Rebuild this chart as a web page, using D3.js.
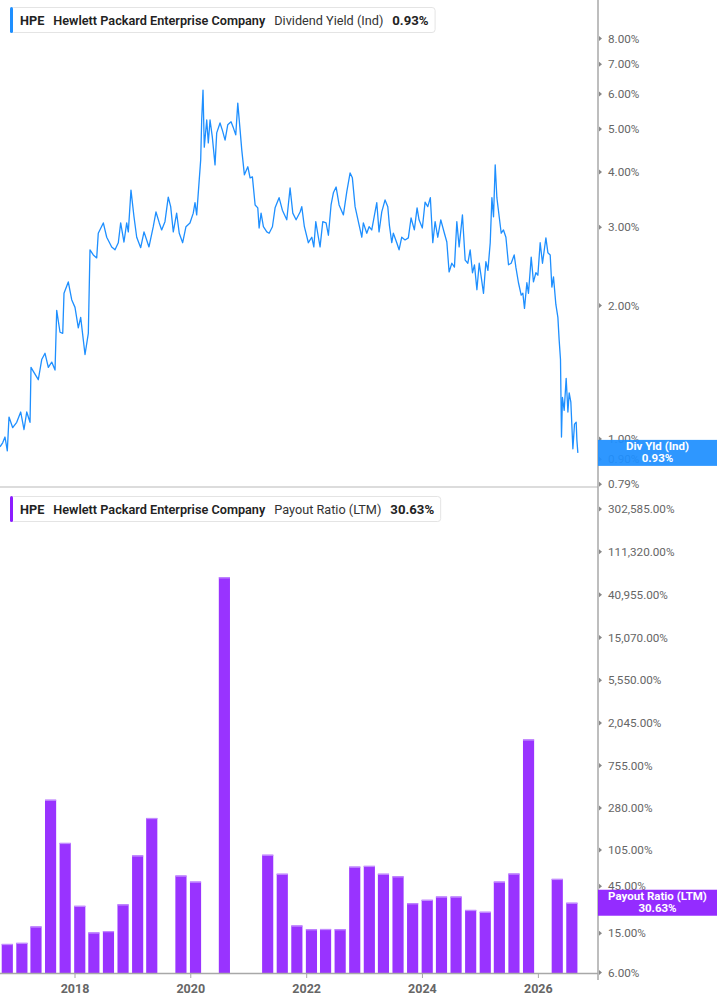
<!DOCTYPE html>
<html><head><meta charset="utf-8">
<script src="https://cdn.jsdelivr.net/npm/d3@7"></script>
<style>
html,body{margin:0;padding:0;background:#fff;}
svg{display:block;font-family:Roboto,"Noto Sans",sans-serif;}
</style></head>
<body>
<svg id="chart" width="717" height="1005"></svg>
<script>
// ---------- DATA ----------
const yieldDates = [2016.705,2016.751,2016.791,2016.831,2016.860,2016.924,2016.993,2017.062,2017.119,2017.166,2017.223,2017.240,2017.280,2017.366,2017.425,2017.482,2017.539,2017.598,2017.655,2017.684,2017.741,2017.788,2017.810,2017.884,2017.943,2018.000,2018.057,2018.098,2018.173,2018.230,2018.259,2018.316,2018.375,2018.402,2018.489,2018.548,2018.634,2018.691,2018.748,2018.789,2018.846,2018.893,2018.921,2018.967,2019.019,2019.066,2019.135,2019.192,2019.278,2019.352,2019.399,2019.456,2019.497,2019.554,2019.611,2019.653,2019.698,2019.756,2019.801,2019.860,2019.917,2019.986,2020.043,2020.073,2020.102,2020.142,2020.171,2020.188,2020.211,2020.233,2020.275,2020.302,2020.332,2020.371,2020.418,2020.447,2020.504,2020.544,2020.591,2020.637,2020.694,2020.734,2020.775,2020.810,2020.850,2020.879,2020.924,2020.983,2021.022,2021.062,2021.109,2021.155,2021.178,2021.212,2021.252,2021.311,2021.351,2021.408,2021.454,2021.523,2021.580,2021.656,2021.713,2021.760,2021.817,2021.886,2021.915,2021.960,2022.029,2022.088,2022.123,2022.157,2022.202,2022.231,2022.278,2022.335,2022.375,2022.421,2022.461,2022.508,2022.560,2022.634,2022.693,2022.750,2022.789,2022.836,2022.905,2022.952,2022.979,2023.038,2023.078,2023.124,2023.181,2023.211,2023.250,2023.297,2023.354,2023.401,2023.428,2023.470,2023.497,2023.556,2023.596,2023.642,2023.699,2023.756,2023.803,2023.860,2023.907,2023.941,2023.998,2024.045,2024.092,2024.136,2024.178,2024.218,2024.264,2024.316,2024.378,2024.420,2024.459,2024.506,2024.551,2024.592,2024.632,2024.689,2024.736,2024.782,2024.822,2024.862,2024.896,2024.938,2024.978,2025.012,2025.052,2025.093,2025.128,2025.168,2025.197,2025.225,2025.254,2025.283,2025.323,2025.358,2025.397,2025.439,2025.484,2025.530,2025.582,2025.611,2025.656,2025.703,2025.732,2025.760,2025.801,2025.829,2025.876,2025.915,2025.957,2025.991,2026.031,2026.071,2026.130,2026.164,2026.204,2026.233,2026.261,2026.302,2026.337,2026.359,2026.382,2026.399,2026.416,2026.446,2026.480,2026.510,2026.532,2026.561,2026.596,2026.624,2026.653,2026.665,2026.682];
const yieldValues = [0.96,0.98,1.01,0.94,1.12,1.06,1.09,1.15,1.05,1.15,1.09,1.45,1.42,1.36,1.51,1.56,1.45,1.49,1.43,1.95,1.74,1.73,2.13,2.26,2.06,1.98,1.78,1.88,1.55,1.73,2.67,2.60,2.56,2.91,3.07,2.85,2.71,2.67,2.77,3.07,2.78,3.07,2.93,3.64,3.17,2.85,2.70,2.93,2.71,3.01,3.25,3.07,2.96,3.09,3.51,3.34,2.93,3.23,2.91,2.77,3.01,3.07,3.23,3.41,3.20,3.78,4.26,5.24,6.12,4.55,5.24,4.65,5.24,4.80,4.15,4.90,5.16,4.97,4.72,5.11,5.19,5.03,4.85,5.72,4.97,4.48,3.94,4.11,3.88,3.90,3.37,3.32,2.99,3.23,3.01,2.93,2.91,3.01,3.32,3.50,3.28,3.12,3.68,3.23,3.12,3.25,3.34,3.01,2.77,2.85,2.71,3.09,2.85,2.71,3.09,3.07,2.88,3.37,3.59,3.70,3.37,3.20,3.61,3.98,3.88,3.34,3.04,2.85,3.07,2.91,3.01,2.96,3.25,3.41,2.93,3.25,3.46,3.34,3.04,2.77,2.91,2.77,2.67,2.85,2.81,2.84,3.15,2.96,3.32,3.12,2.99,3.42,3.34,3.50,2.77,3.09,2.85,3.12,2.91,2.78,2.38,2.49,2.44,3.09,2.71,3.20,2.53,2.49,2.67,2.37,2.47,2.17,2.49,2.32,2.13,2.51,2.40,2.77,3.50,3.17,4.15,3.50,3.17,2.91,2.96,2.85,2.47,2.49,2.60,2.44,2.25,2.11,2.13,1.97,2.25,2.13,2.57,2.26,2.37,2.34,2.77,2.49,2.84,2.63,2.60,2.20,2.32,2.01,1.88,1.67,1.51,1.01,1.24,1.16,1.37,1.15,1.27,1.21,0.95,1.08,1.09,0.995,0.93];

const payoutDates = ["2016-10-31","2017-01-31","2017-04-30","2017-07-31","2017-10-31","2018-01-31","2018-04-30","2018-07-31","2018-10-31","2019-01-31","2019-04-30","2019-10-31","2020-01-31","2020-07-31","2021-04-30","2021-07-31","2021-10-31","2022-01-31","2022-04-30","2022-07-31","2022-10-31","2023-01-31","2023-04-30","2023-07-31","2023-10-31","2024-01-31","2024-04-30","2024-07-31","2024-10-31","2025-01-31","2025-04-30","2025-07-31","2025-10-31","2026-04-30","2026-07-31"];
const payoutValues = [11.7,12.0,17.6,340,124,28.5,15.3,15.8,29.5,92.5,222,57.8,50.2,61500,94,60.3,18.0,16.5,16.6,16.5,71.2,72.5,60.3,56.8,30.3,32.8,35.4,35.4,25.9,24.8,50.2,60.6,1390,53.5,30.63];

const yieldTicks = [8,7,6,5,4,3,2,1,0.9,0.79];
const payoutTicks = [302585,111320,40955,15070,5550,2045,755,280,105,45,15,6];
const yearTicks = [2018,2020,2022,2024,2026];

const company = "Hewlett Packard Enterprise Company";
const ticker = "HPE";
const yieldLabel = "Dividend Yield (Ind)";
const payoutLabel = "Payout Ratio (LTM)";
const yieldLast = 0.93;
const payoutLast = 30.63;

// ---------- HELPERS ----------
function dy(t){const y=Math.floor(t);const s=new Date(y,0,1),e=new Date(y+1,0,1);return new Date(+s+(t-y)*(e-s));}
const parse = d3.timeParse("%Y-%m-%d");
const fmt2 = d3.format(",.2f");

const svg = d3.select("#chart");
const W = 717, axisX = 598;
const BLUE = "#1e8fff", PURPLE = "#9933ff";

const x = d3.scaleTime().domain([dy(2016.705), dy(2027.03)]).range([0, axisX]);
const yTop = d3.scaleLog().domain([0.779, 9.77]).range([487, 0]);
const yBot = d3.scaleLog().domain([5.93, 472300]).range([973, 490]);

// ---------- TOP PANEL: line ----------
const lineData = yieldDates.map((t,i)=>({d:dy(t), v:yieldValues[i]}));
svg.append("path").datum(lineData)
  .attr("fill","none").attr("stroke",BLUE).attr("stroke-width",1.3).attr("stroke-linejoin","round")
  .attr("d", d3.line().x(d=>x(d.d)).y(d=>yTop(d.v)));

// separator
svg.append("line").attr("x1",0).attr("x2",axisX).attr("y1",487).attr("y2",487)
  .attr("stroke","#dcdcdc").attr("stroke-width",2);

// ---------- BOTTOM PANEL: bars ----------
const barData = payoutDates.map((s,i)=>({d:parse(s), v:payoutValues[i]}));
const qw = x(parse("2018-04-30")) - x(parse("2018-01-31"));
const bw = qw*0.79;
const bars = svg.append("g");
bars.selectAll("rect.bar").data(barData).enter().append("rect").attr("class","bar")
  .attr("x",d=>x(d.d)-bw/2).attr("width",bw)
  .attr("y",d=>yBot(d.v)).attr("height",d=>yBot.range()[0]-yBot(d.v))
  .attr("fill",PURPLE);
bars.selectAll("rect.cap").data(barData).enter().append("rect").attr("class","cap")
  .attr("x",d=>x(d.d)-bw/2).attr("width",bw)
  .attr("y",d=>yBot(d.v)).attr("height",1.2)
  .attr("fill","#c28cff");

// bottom x axis
svg.append("line").attr("x1",0).attr("x2",axisX).attr("y1",973.5).attr("y2",973.5)
  .attr("stroke","#a8a8a8").attr("stroke-width",1.5);
const xa = svg.append("g");
xa.selectAll("line").data(yearTicks).enter().append("line")
  .attr("x1",d=>x(new Date(d,0,1))).attr("x2",d=>x(new Date(d,0,1)))
  .attr("y1",974).attr("y2",978).attr("stroke","#a8a8a8").attr("stroke-width",1);
xa.selectAll("text").data(yearTicks).enter().append("text")
  .attr("x",d=>x(new Date(d,0,1))).attr("y",993)
  .attr("text-anchor","middle").attr("font-size",12.5).attr("font-weight",700)
  .attr("fill","#666").text(d=>d);

// right vertical axis
svg.append("line").attr("x1",axisX).attr("x2",axisX).attr("y1",0).attr("y2",980)
  .attr("stroke","#a8a8a8").attr("stroke-width",1.5);

function tickGroup(scale, ticks, fmtFn){
  const g = svg.append("g");
  const t = g.selectAll("g").data(ticks).enter().append("g")
    .attr("transform",d=>`translate(${axisX},${scale(d)})`);
  t.append("path").attr("d","M1,-2.5L4,0L1,2.5Z").attr("fill","#888");
  t.append("text").attr("x",10).attr("dy","0.35em").attr("font-size",11.7)
    .attr("fill","#666").text(fmtFn);
}
tickGroup(yTop, yieldTicks, d=>fmt2(d)+"%");
tickGroup(yBot, payoutTicks, d=>fmt2(d)+"%");

// ---------- BADGES ----------
function badge(yc, color, l1, l2){
  const g = svg.append("g");
  g.append("rect").attr("x",axisX).attr("y",yc-13).attr("width",W-axisX).attr("height",26)
    .attr("fill",color).attr("fill-opacity",0.93);
  g.append("text").attr("x",axisX+(W-axisX)/2).attr("y",yc-2.5).attr("text-anchor","middle")
    .attr("font-size",11.5).attr("font-weight",700).attr("fill","#fff").text(l1);
  g.append("text").attr("x",axisX+(W-axisX)/2).attr("y",yc+9.5).attr("text-anchor","middle")
    .attr("font-size",11.5).attr("font-weight",700).attr("fill","#fff").text(l2);
}
badge(yTop(yieldLast), BLUE, "Div Yld (Ind)", fmt2(yieldLast)+"%");
badge(yBot(payoutLast), "#8c1cff", payoutLabel, fmt2(payoutLast)+"%");

// ---------- LEGENDS ----------
function legend(y0, color, label, value){
  const g = svg.append("g");
  const box = g.append("rect").attr("x",10.5).attr("y",y0+0.5).attr("height",25).attr("rx",3)
    .attr("fill","#fff").attr("stroke","#e4e4e4");
  g.append("rect").attr("x",10).attr("y",y0).attr("width",3).attr("height",26).attr("rx",1.5).attr("fill",color);
  const parts = [[ticker,700,"#222",12.7],[company,600,"#222",12.7],[label,400,"#333",12.7],[value,700,"#222",13.2]];
  let cx = 20;
  const gaps=[9,9,9,0];
  parts.forEach((p,i)=>{
    const t = g.append("text").attr("x",cx).attr("y",y0+17.5).attr("font-size",p[3])
      .attr("font-weight",p[1]).attr("fill",p[2]).text(p[0]);
    cx += t.node().getComputedTextLength() + gaps[i];
  });
  box.attr("width", cx - 10 + 6);
}
legend(7, BLUE, yieldLabel, fmt2(yieldLast)+"%");
legend(496, "#8c1cff", payoutLabel, fmt2(payoutLast)+"%");
</script>
</body></html>
